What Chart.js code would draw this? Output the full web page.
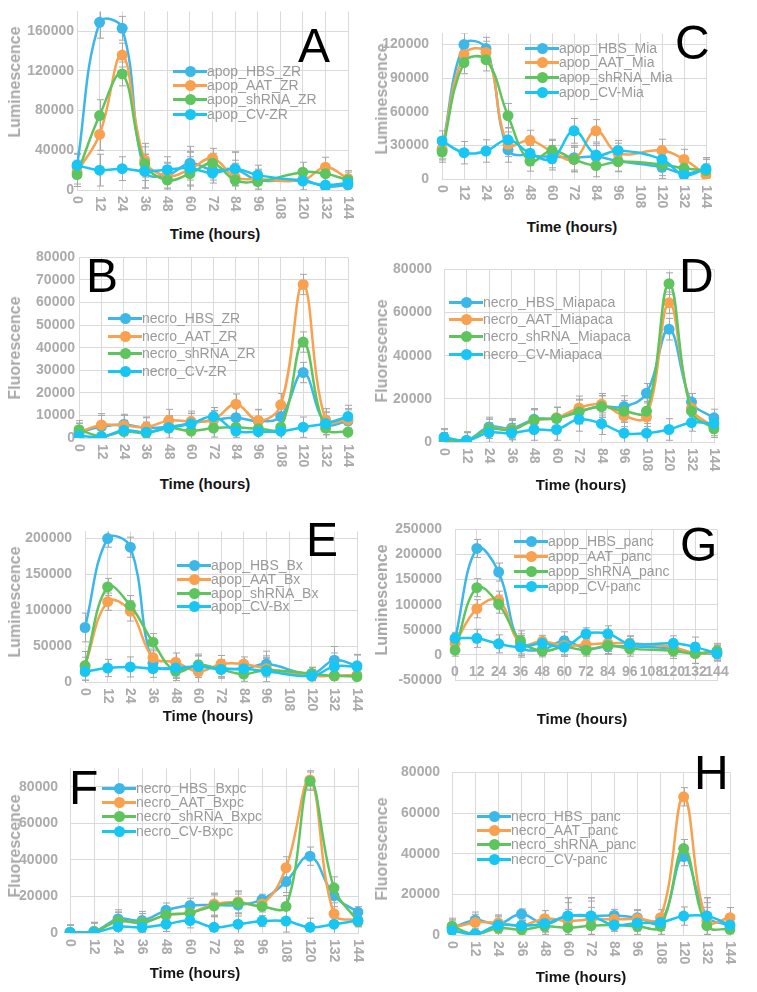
<!DOCTYPE html>
<html>
<head>
<meta charset="utf-8">
<script src="https://cdn.jsdelivr.net/npm/chart.js@4.4.1/dist/chart.umd.min.js"></script>
<style>
body{margin:0;background:#fff;width:757px;height:992px;position:relative;overflow:hidden;font-family:"Liberation Sans",Arial,sans-serif}
canvas{position:absolute}
.lg{position:absolute;font-size:14px;color:#9a9a9a;white-space:nowrap;line-height:16px;height:16px}
.sym{display:inline-block;width:34px;height:16px;position:relative;vertical-align:top}
.sym:before{content:'';position:absolute;left:0;right:0;top:7px;height:2.5px;background:var(--c)}
.sym:after{content:'';position:absolute;left:11.5px;top:2.5px;width:11px;height:11px;border-radius:50%;background:var(--c)}
.letter{position:absolute;font-size:48px;line-height:48px;color:#000}
.ytitle{position:absolute;font-size:16px;font-weight:bold;color:#a8a8a8;transform:translate(-50%,-50%) rotate(-90deg);white-space:nowrap}
.xtitle{position:absolute;font-size:15px;font-weight:bold;color:#151515;transform:translate(-50%,-50%);white-space:nowrap}
</style>
</head>
<body>
<script>
const hours = ['0', '12', '24', '36', '48', '60', '72', '84', '96', '108', '120', '132', '144'];

// A - apop ZR
const aNames = ['apop_HBS_ZR', 'apop_AAT_ZR', 'apop_shRNA_ZR', 'apop_CV-ZR'];
const aHBS = [24000, 169000, 163000, 19000, 15000, 27000, 20000, 21000, 10000, null, 10000, 3500, 5000];
const aAAT = [18000, 56000, 136000, 30000, 14000, 21000, 32000, 13000, 11000, null, 10000, 23000, 11500];
const aShRNA = [15500, 75000, 117000, 26500, 10000, 16500, 27000, 10000, 8500, null, 18000, 16500, 10000];
const aCV = [25000, 20000, 21500, 19000, 20500, 22000, 17000, 21500, 15000, null, 9000, 5000, 7000];
const aErr = [12000, 16000, 12000, 17000, 13000, 17000, 10000, 17000, 10000, null, 10000, 10000, 8000];

// C - apop Mia
const cNames = ['apop_HBS_Mia', 'apop_AAT_Mia', 'apop_shRNA_Mia', 'apop_CV-Mia'];
const cHBS = [26000, 120000, 116500, 26000, 21000, 20000, 19000, 20000, 16000, null, 10500, 5000, 9000];
const cAAT = [27000, 111000, 113000, 31000, 34500, 24500, 17500, 43000, 23000, null, 25500, 17500, 3500];
const cShRNA = [24000, 104000, 106500, 56500, 16000, 25500, 17500, 12000, 15500, null, 13000, 9500, 7500];
const cCV = [34000, 23500, 25000, 35000, 23000, 18000, 43000, 21500, 25500, null, 17500, 3500, 9000];
const cErr = [9000, 10000, 10000, 11000, 9000, 10000, 11000, 10000, 9000, null, 10000, 9000, 10000];

// B - necro ZR
const bNames = ['necro_HBS_ZR', 'necro_AAT_ZR', 'necro_shRNA_ZR', 'necro_CV-ZR'];
const bHBS = [2500, 5000, 6000, 4500, 5000, 6500, 8000, 9000, 7500, 9500, 29000, 6500, 7500];
const bAAT = [2600, 5800, 5500, 4800, 7700, 7400, 8200, 15000, 7700, 14700, 68000, 8000, 8000];
const bShRNA = [3700, 700, 2900, 2200, 4400, 3100, 4400, 4800, 4100, 4800, 42500, 4400, 2600];
const bCV = [1000, 500, 3400, 2600, 4500, 6300, 9500, 3100, 2800, 3000, 4800, 6400, 9500];
const bErr = [4000, 5000, 4500, 4500, 5000, 4500, 4000, 4500, 5000, 5000, 4500, 5000, 5000];

// D - necro Miapaca
const dNames = ['necro_HBS_Miapaca', 'necro_AAT_Miapaca', 'necro_shRNA_Miapaca', 'necro_CV-Miapaca'];
const dHBS = [1700, 700, 7000, 6400, 10500, 11000, 14300, 16500, 16400, 22600, 52300, 18500, 11200];
const dAAT = [400, 300, 6100, 5800, 9900, 11200, 15800, 17500, 12100, 11700, 64500, 15800, 6900];
const dShRNA = [300, 400, 6100, 5500, 10200, 11000, 13900, 16400, 14300, 14300, 73400, 14300, 6100];
const dCV = [2200, 700, 4400, 4100, 5800, 5800, 10500, 8500, 4100, 4100, 5800, 9000, 8500];
const dErr = [4000, 4000, 4500, 4500, 5000, 5000, 5500, 5000, 5000, 4500, 5000, 4000, 4000];

// E - apop Bx
const eNames = ['apop_HBS_Bx', 'apop_AAT_Bx', 'apop_shRNA_Bx', 'apop_CV-Bx'];
const eHBS = [76000, 200000, 188000, 26000, 18000, 21500, 19500, 18000, 25000, null, 11500, 30500, 22500];
const eAAT = [22500, 112000, 99000, 34000, 27500, 14500, 25000, 25000, 18500, null, 8700, 8700, 10000];
const eShRNA = [22500, 132500, 106500, 55500, 15000, 24000, 17500, 11000, 16500, null, 11500, 8700, 7500];
const eCV = [14500, 19500, 21000, 18500, 19500, 21500, 17500, 18500, 15000, null, 8500, 21500, 21500];
const eErr = [20000, 12000, 14000, 12000, 13000, 15000, 12000, 10000, 18000, null, 9000, 19000, 16000];

// G - apop panc
const gNames = ['apop_HBS_panc', 'apop_AAT_panc', 'apop_shRNA_panc', 'apop_CV-panc'];
const gHBS = [31000, 212000, 165000, 18500, 10500, 28000, 12500, 17000, 17000, null, 12500, 3000, 3000];
const gAAT = [23000, 92000, 109000, 22000, 27000, 18500, 20500, 23000, 23000, null, 15500, 3000, 5000];
const gShRNA = [9500, 134000, 101000, 28000, 8000, 15500, 9500, 18500, 12500, null, 8000, 3000, 8000];
const gCV = [33000, 33000, 22000, 15500, 23000, 15500, 42000, 42000, 22000, null, 23000, 15500, 3000];
const gErr = [12000, 18000, 18000, 20000, 12000, 18000, 12000, 16000, 15000, null, 15000, 20000, 15000];

// F - necro Bxpc
const fNames = ['necro_HBS_Bxpc', 'necro_AAT_Bxpc', 'necro_shRNA_Bxpc', 'necro_CV-Bxpc'];
const fHBS = [300, 800, 7700, 6800, 12400, 15000, 15300, 15300, 18200, 28100, 42000, 20400, 11400];
const fAAT = [300, 800, 6300, 5600, 9700, 11000, 15800, 17000, 15800, 35700, 83700, 10500, 6800];
const fShRNA = [300, 800, 6500, 5600, 9900, 11000, 14800, 16500, 14500, 14500, 83000, 24700, 6300];
const fCV = [300, 300, 3400, 3100, 4800, 6800, 3100, 4800, 6500, 6500, 3100, 4800, 6800];
const fErr = [4000, 5000, 5000, 5000, 4000, 4000, 6000, 6000, 3000, 6000, 5000, 6000, 3000];

// H - necro panc
const hNames = ['necro_HBS_panc', 'necro_AAT_panc', 'necro_shRNA_panc', 'necro_CV-panc'];
const hHBS = [3400, 7300, 5400, 10300, 5400, 9300, 9300, 9600, 8500, 6200, 38600, 9300, 4600];
const hAAT = [3400, 6200, 5900, 4600, 8000, 6900, 7700, 7700, 8000, 8500, 68000, 6900, 8500];
const hShRNA = [4300, 500, 3400, 2600, 4300, 3600, 4600, 4900, 4300, 4300, 42500, 4600, 2800];
const hCV = [2300, 500, 4900, 4600, 5700, 9300, 9300, 4900, 5900, 6200, 9300, 9300, 4900];
const hErr = [4000, 4000, 4000, 2500, 4000, 9000, 9000, 3000, 4000, 4000, 4500, 9000, 5000];

const colors = ['#3bb8e8', '#f9a14f', '#5ec55e', '#17c6f3'];
const gridColor = '#dadada';
const tickColor = '#ababab';
const tickFont = {family: '"Liberation Sans", Arial, sans-serif', size: 14, weight: 'bold'};

const panels = [
	{letter: 'A', lp: [298, 22], l: 77, r: 348, t: 10, b: 190, min: 0, max: 180000, step: 40000, pad: 3,
		names: aNames, series: [aHBS, aAAT, aShRNA, aCV], err: aErr, legend: [173, [71, 85, 99, 114]],
		ytitle: ['Luminescence', 15, 82], xtitle: [215, 233]},
	{letter: 'C', lp: [675, 19], l: 442, r: 706, t: 22, b: 179, min: 0, max: 130000, step: 30000, pad: 13,
		names: cNames, series: [cHBS, cAAT, cShRNA, cCV], err: cErr, legend: [525, [48, 62, 77, 92]],
		ytitle: ['Luminescence', 382, 99], xtitle: [572, 226]},
	{letter: 'B', lp: [86, 252], l: 79, r: 348, t: 255, b: 438, min: 0, max: 80000, step: 10000, pad: 4,
		names: bNames, series: [bHBS, bAAT, bShRNA, bCV], err: bErr, legend: [108, [318, 336, 353, 371]],
		ytitle: ['Fluorescence', 15, 348], xtitle: [205, 483]},
	{letter: 'D', lp: [679, 252], l: 444, r: 714, t: 259, b: 442, min: 0, max: 80000, step: 20000, pad: 12,
		names: dNames, series: [dHBS, dAAT, dShRNA, dCV], err: dErr, legend: [449, [302, 319, 336, 354]],
		ytitle: ['Fluorescence', 382, 351], xtitle: [581, 484]},
	{letter: 'E', lp: [306, 516], l: 85, r: 357, t: 520, b: 682, min: 0, max: 210000, step: 50000, pad: 13,
		names: eNames, series: [eHBS, eAAT, eShRNA, eCV], err: eErr, legend: [177, [565, 579, 593, 606]],
		ytitle: ['Luminescence', 15, 602], xtitle: [208, 715]},
	{letter: 'G', lp: [680, 521], l: 455, r: 717, t: 518, b: 680, min: -50000, max: 250000, step: 50000, pad: 13, flat: true,
		names: gNames, series: [gHBS, gAAT, gShRNA, gCV], err: gErr, legend: [514, [541, 556, 571, 586]],
		ytitle: ['Luminescence', 382, 600], xtitle: [582, 718]},
	{letter: 'F', lp: [69, 764], l: 70, r: 358, t: 758, b: 933, min: 0, max: 90000, step: 20000, pad: 12,
		names: fNames, series: [fHBS, fAAT, fShRNA, fCV], err: fErr, legend: [102, [788, 802, 816, 831]],
		ytitle: ['Fluorescence', 15, 846], xtitle: [195, 972]},
	{letter: 'H', lp: [694, 749], l: 452, r: 730, t: 762, b: 935, min: 0, max: 80000, step: 20000, pad: 12,
		names: hNames, series: [hHBS, hAAT, hShRNA, hCV], err: hErr, legend: [477, [816, 830, 844, 859]],
		ytitle: ['Fluorescence', 382, 849], xtitle: [581, 976]},
];

const errorBars = {
	id: 'errBars',
	beforeDatasetsDraw(chart, args, opts) {
		const {ctx, chartArea} = chart;
		const ys = chart.scales.y;
		ctx.save();
		ctx.beginPath();
		ctx.rect(chartArea.left - 10, chartArea.top, chartArea.right - chartArea.left + 20, chartArea.bottom - chartArea.top);
		ctx.clip();
		ctx.strokeStyle = '#a6a6a6';
		ctx.lineWidth = 1;
		chart.data.datasets.forEach((ds, di) => {
			chart.getDatasetMeta(di).data.forEach((pt, i) => {
				const v = ds.data[i];
				const e = opts.err[i];
				if (v == null || e == null) return;
				const x = Math.round(pt.x) + 0.5;
				const y1 = ys.getPixelForValue(v + e);
				const y2 = ys.getPixelForValue(v - e);
				ctx.beginPath();
				ctx.moveTo(x, y1); ctx.lineTo(x, y2);
				ctx.moveTo(x - 3.5, y1); ctx.lineTo(x + 3.5, y1);
				ctx.moveTo(x - 3.5, y2); ctx.lineTo(x + 3.5, y2);
				ctx.stroke();
			});
		});
		ctx.restore();
	}
};

const xLabels = {
	id: 'xLabels',
	afterDraw(chart, args, opts) {
		const {ctx, chartArea} = chart;
		const xs = chart.scales.x;
		const ys = chart.scales.y;
		ctx.save();
		ctx.fillStyle = tickColor;
		ctx.font = 'bold 14px "Liberation Sans", Arial, sans-serif';
		chart.data.labels.forEach((lab, i) => {
			const x = xs.getPixelForValue(i);
			if (opts.flat) {
				ctx.textAlign = 'center';
				ctx.textBaseline = 'top';
				ctx.fillText(lab, x, ys.getPixelForValue(0) + 10);
			} else {
				ctx.save();
				ctx.translate(x, chartArea.bottom + 6);
				ctx.rotate(Math.PI / 2);
				ctx.textAlign = 'left';
				ctx.textBaseline = 'middle';
				ctx.fillText(lab, 0, 0);
				ctx.restore();
			}
		});
		ctx.restore();
	}
};

const addDiv = (cls, text, left, top) => {
	const d = document.createElement('div');
	d.className = cls;
	d.textContent = text;
	d.style.left = left + 'px';
	d.style.top = top + 'px';
	document.body.appendChild(d);
	return d;
};

const makePanel = (p) => {
	const cl = p.l - 62, ct = p.t - 10;
	const cv = document.createElement('canvas');
	cv.width = p.r - cl + 16;
	cv.height = p.b - ct + 34;
	cv.style.left = cl + 'px';
	cv.style.top = ct + 'px';
	document.body.appendChild(cv);

	new Chart(cv, {
		type: 'line',
		data: {
			labels: hours,
			datasets: p.series.map((s, i) => ({
				label: p.names[i],
				data: s,
				borderColor: colors[i],
				backgroundColor: colors[i],
				borderWidth: 2.5,
				pointRadius: 5.5,
				pointBorderWidth: 0,
				pointBackgroundColor: colors[i],
				tension: 0.4,
				spanGaps: true,
				order: 4 - i,
			})),
		},
		options: {
			responsive: false,
			animation: false,
			layout: {padding: {left: 0, top: 10, right: 16, bottom: 34}},
			plugins: {
				legend: {display: false},
				tooltip: {enabled: false},
				errBars: {err: p.err},
				xLabels: {flat: !!p.flat},
			},
			scales: {
				x: {
					grid: {color: gridColor, drawTicks: false},
					border: {color: gridColor},
					ticks: {display: false},
					afterFit: (s) => { s.height = 0; },
				},
				y: {
					min: p.min,
					max: p.max,
					grid: {color: gridColor, drawTicks: false},
					border: {color: gridColor},
					ticks: {padding: p.pad, color: tickColor, font: tickFont, callback: (v) => String(v)},
					// Excel style: ticks on multiples of the major unit only
					afterBuildTicks: (s) => {
						const ticks = [];
						for (let v = Math.ceil(p.min / p.step) * p.step; v <= p.max; v += p.step) ticks.push({value: v});
						s.ticks = ticks;
					},
					afterFit: (s) => { s.width = 62; },
				},
			},
		},
		plugins: [errorBars, xLabels],
	});

	// legend inside the plot
	p.names.forEach((n, i) => {
		const row = addDiv('lg', '', p.legend[0], p.legend[1][i] - 8);
		const sym = document.createElement('span');
		sym.className = 'sym';
		sym.style.setProperty('--c', colors[i]);
		row.appendChild(sym);
		row.appendChild(document.createTextNode(n));
	});

	addDiv('letter', p.letter, p.lp[0], p.lp[1]);
	addDiv('ytitle', p.ytitle[0], p.ytitle[1], p.ytitle[2]);
	addDiv('xtitle', 'Time (hours)', p.xtitle[0], p.xtitle[1]);
};

panels.forEach(makePanel);
</script>
</body>
</html>
